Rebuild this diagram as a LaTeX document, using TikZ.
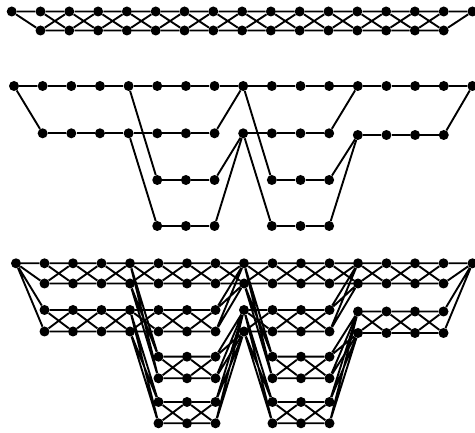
\documentclass[tikz,border=0pt]{standalone}
\begin{document}
\begin{tikzpicture}[x=1pt,y=-1pt,
  dot/.style={circle,fill=black,draw=none,inner sep=0pt,minimum size=10pt},
  edge/.style={line width=1.9pt,black}]
\useasboundingbox (0,0) rectangle (475,433);
% ---------------- top graph: doubled path ----------------
\node[dot] (t0) at (11.7,11.5) {};
\node[dot] (t16) at (472.5,11.5) {};
\foreach \i in {1,...,15} {
  \node[dot] (tu\i) at ({11.7+28.8*\i},11.5) {};
  \node[dot] (tl\i) at ({11.7+28.8*\i},30.5) {};
}
\draw[edge] (t0) -- (tu1) (t0) -- (tl1) (tu15) -- (t16) (tl15) -- (t16);
\foreach \i in {1,...,14} {
  \pgfmathtruncatemacro{\j}{\i+1}
  \draw[edge] (tu\i) -- (tu\j) (tl\i) -- (tl\j) (tu\i) -- (tl\j) (tl\i) -- (tu\j);
}
% ---------------- middle graph ----------------
\node[dot] (mT0) at (14,86) {};
\node[dot] (mT16) at (472.4,86) {};
\foreach \i in {1,...,15} {
  \node[dot] (mT\i) at ({14+28.65*\i},86) {};
  \pgfmathsetmacro{\yy}{\i>11 ? 135 : 133.3}
  \node[dot] (mM\i) at ({14+28.65*\i},\yy) {};
}
\foreach \i in {5,6,7,9,10,11} {
  \node[dot] (mP\i) at ({14+28.65*\i},180) {};
  \node[dot] (mQ\i) at ({14+28.65*\i},226) {};
}
% ---------------- bottom graph: doubled middle graph ----------------
\node[dot] (bT0) at (16,263.3) {};
\node[dot] (bT16) at (472.5,263.3) {};
\foreach \i in {1,...,15} {
  \node[dot] (bT\i u) at ({16+28.5*\i},263.3) {};
  \node[dot] (bT\i l) at ({16+28.5*\i},283.5) {};
  \pgfmathsetmacro{\yu}{\i>11 ? 311.5 : 310}
  \pgfmathsetmacro{\yl}{\i>11 ? 333 : 331.5}
  \node[dot] (bM\i u) at ({16+28.5*\i},\yu) {};
  \node[dot] (bM\i l) at ({16+28.5*\i},\yl) {};
}
\foreach \i in {5,6,7,9,10,11} {
  \node[dot] (bP\i u) at ({16+28.5*\i},356.7) {};
  \node[dot] (bP\i l) at ({16+28.5*\i},378.3) {};
  \node[dot] (bQ\i u) at ({16+28.5*\i},402) {};
  \node[dot] (bQ\i l) at ({16+28.5*\i},423.3) {};
}
% endpoint edges
\draw[edge] (mT0) -- (mT1) (mT0) -- (mM1) (mT15) -- (mT16) (mM15) -- (mT16);
\draw[edge] (bT0) -- (bT1u) (bT0) -- (bT1l) (bT0) -- (bM1u) (bT0) -- (bM1l)
  (bT15u) -- (bT16) (bT15l) -- (bT16) (bM15u) -- (bT16) (bM15l) -- (bT16);
% top chain
\foreach \i in {1,...,14} {
  \pgfmathtruncatemacro{\j}{\i+1}
  \draw[edge] (mT\i) -- (mT\j);
  \draw[edge] (bT\i u) -- (bT\j u) (bT\i u) -- (bT\j l) (bT\i l) -- (bT\j u) (bT\i l) -- (bT\j l);
}
% other edges
\foreach \a/\b in {M1/M2,M2/M3,M3/M4,M4/M5,M5/M6,M6/M7,M7/T8,
  T4/P5,M4/Q5,P5/P6,P6/P7,Q5/Q6,Q6/Q7,P7/M8,Q7/M8,
  T8/P9,M8/Q9,M8/M9,M9/M10,M10/M11,M11/T12,
  P9/P10,P10/P11,Q9/Q10,Q10/Q11,P11/M12,Q11/M12,
  M12/M13,M13/M14,M14/M15} {
  \draw[edge] (m\a) -- (m\b);
  \draw[edge] (b\a u) -- (b\b u) (b\a u) -- (b\b l) (b\a l) -- (b\b u) (b\a l) -- (b\b l);
}
\end{tikzpicture}
\end{document}
